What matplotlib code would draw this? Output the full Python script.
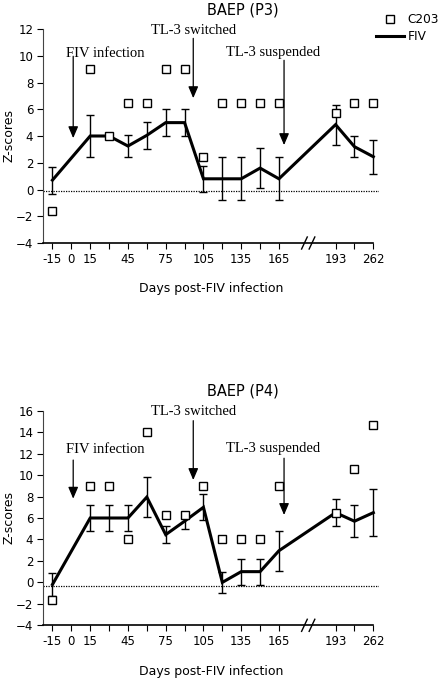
import numpy as np
import matplotlib
matplotlib.use("Agg")
import matplotlib.pyplot as plt
from matplotlib.lines import Line2D

nan = np.nan

# Category slots along the x axis (two empty slots before the axis break)
categories = ['-15', '0', '15', '30', '45', '60', '75', '90', '105', '120',
              '135', '150', '165', '', '', '193', '228', '262']
shown_labels = ['-15', '0', '15', '45', '75', '105', '135', '165', '193', '262']
tick_slots = [0, 1, 2, 3, 4, 5, 6, 7, 8, 9, 10, 11, 12, 15, 16, 17]

# BAEP (P3)
p3_fiv = [0.7, nan, 4.0, 4.0, 3.25, 4.05, 5.0, 5.0, 0.8, 0.8, 0.8, 1.6, 0.8,
          nan, nan, 4.85, 3.2, 2.45]
p3_err = [1.0, nan, 1.6, nan, 0.8, 1.0, 1.0, 1.0, 0.95, 1.6, 1.6, 1.5, 1.6,
          nan, nan, 1.5, 0.8, 1.27]
p3_c203 = [-1.6, nan, 9.0, 4.0, 6.5, 6.5, 9.0, 9.0, 2.45, 6.5, 6.5, 6.5, 6.5,
           nan, nan, 5.7, 6.5, 6.5]

# BAEP (P4)
p4_fiv = [-0.2, nan, 6.0, 6.0, 6.0, 7.95, 4.45, 5.7, 7.0, 0.0, 1.0, 1.0, 2.95,
          nan, nan, 6.5, 5.7, 6.5]
p4_err = [1.1, nan, 1.2, 1.2, 1.2, 1.85, 0.77, 0.7, 1.2, 1.0, 1.2, 1.2, 1.85,
          nan, nan, 1.25, 1.5, 2.2]
p4_c203 = [-1.6, nan, 9.0, 9.0, 4.0, 14.0, 6.3, 6.3, 9.0, 4.0, 4.0, 4.0, 9.0,
           nan, nan, 6.5, 10.6, 14.7]

W, H = 441, 679
fig = plt.figure(figsize=(W / 100, H / 100), dpi=100)

SANS = 'DejaVu Sans'
SERIF = 'Liberation Serif'


def panel(ax_rect, title, title_y, fiv, err, c203, ylim, zero_y, events, legend):
    ax = fig.add_axes(ax_rect)
    x = np.arange(len(categories))
    fiv = np.array(fiv, float)
    err = np.array(err, float)
    c203 = np.array(c203, float)
    m = ~np.isnan(fiv)
    ax.plot(x[m], fiv[m], color='black', lw=2.2, zorder=3, solid_joinstyle='miter')
    me = m & ~np.isnan(err)
    ax.errorbar(x[me], fiv[me], yerr=err[me], fmt='none', ecolor='black',
                elinewidth=1.0, capsize=3, capthick=1.0, zorder=2)
    mc = ~np.isnan(c203)
    ax.plot(x[mc], c203[mc], ls='none', marker='s', ms=5.5, mfc='white',
            mec='black', mew=1.0, zorder=4)
    ax.axhline(zero_y, color='black', lw=0.9, ls=(0, (1, 1)), zorder=1)

    ax.set_xlim(-0.5, 17.3)
    ax.set_ylim(*ylim)
    ax.set_yticks(np.arange(ylim[0], ylim[1] + 1, 2))
    ax.set_xticks(tick_slots)
    ax.set_xticklabels([c if c in shown_labels else '' for c in
                        [categories[i] for i in tick_slots]])
    ax.tick_params(axis='both', direction='out', length=4, width=0.8,
                   labelsize=8.5, pad=3, colors='black')
    for s in ['top', 'right']:
        ax.spines[s].set_visible(False)
    ax.spines['bottom'].set_bounds(-0.5, 17)
    ax.spines['bottom'].set_linewidth(1.2)
    ax.spines['left'].set_linewidth(0.8)
    ax.spines['left'].set_color('#444444')
    ax.set_xlabel('Days post-FIV infection', fontsize=9, labelpad=12, family=SANS)
    ax.set_ylabel('Z-scores', fontsize=9, labelpad=0.5, family=SANS)

    # axis break marks
    yb = ylim[0]
    for xb in (13.35, 13.75):
        ax.plot([xb - 0.15, xb + 0.15], [yb - 0.45 * (ylim[1]-ylim[0]) / 16,
                                        yb + 0.45 * (ylim[1]-ylim[0]) / 16],
                color='black', lw=1.0, clip_on=False, zorder=5)

    for (label, tx, ty, ax_x, a_top, a_tip) in events:
        ax.text(tx, ty, label, ha='center', va='center', fontsize=10.5,
                family=SERIF, clip_on=False)
        ax.annotate('', xy=(ax_x, a_tip), xytext=(ax_x, a_top),
                    arrowprops=dict(arrowstyle='-|>,head_length=0.7,head_width=0.3',
                                    lw=0.9, color='black', mutation_scale=10,
                                    shrinkA=0, shrinkB=0), annotation_clip=False)

    fig.text(243 / W, title_y, title, ha='center', va='center', fontsize=10.5,
             family=SANS)

    if legend:
        h = [Line2D([], [], ls='none', marker='s', ms=5.5, mfc='white',
                    mec='black', mew=1.0),
             Line2D([], [], color='black', lw=2.2)]
        fig.legend(h, ['C203', 'FIV'], loc='upper left',
                   bbox_to_anchor=(376 / W, 1 - 13 / H), frameon=False,
                   borderpad=0, borderaxespad=0, handlelength=2.3,
                   handletextpad=0.3, labelspacing=0.35,
                   prop={'family': SANS, 'size': 8.7})
    return ax


panel([43 / W, 1 - 243 / H, 336 / W, 214 / H], 'BAEP (P3)', 1 - 10 / H,
      p3_fiv, p3_err, p3_c203, (-4, 12), -0.1,
      [('FIV infection', 2.79, 10.19, 1.1, 9.96, 3.84),
       ('TL-3 switched', 7.45, 11.9, 7.46, 11.3, 6.83),
       ('TL-3 suspended', 11.69, 10.26, 12.27, 9.66, 3.32)], True)

panel([43 / W, 1 - 625.3 / H, 336 / W, 214.6 / H], 'BAEP (P4)', 1 - 390.7 / H,
      p4_fiv, p4_err, p4_c203, (-4, 16), -0.3,
      [('FIV infection', 2.79, 12.34, 1.1, 11.4, 7.8),
       ('TL-3 switched', 7.45, 15.9, 7.46, 15.07, 9.54),
       ('TL-3 suspended', 11.69, 12.5, 12.27, 11.57, 6.28)], False)

fig.savefig('out.png', dpi=100)
